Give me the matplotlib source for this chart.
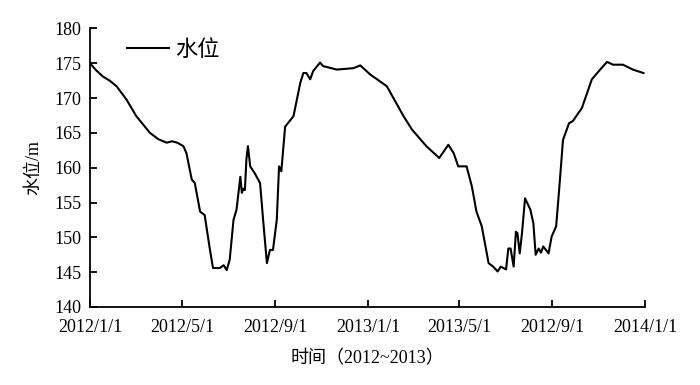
import matplotlib.pyplot as plt
import pandas as pd

# days since 2012-01-01 and water level (m)
days = [0, 8, 17, 26, 35, 48, 61, 70, 79, 90, 101, 108, 115, 123, 127, 134, 138,
        145, 151, 158, 162, 171, 176, 180, 184, 189, 193, 198, 200, 202, 204, 206,
        208, 211, 217, 224, 228, 233, 237, 241, 246, 249, 252, 257, 268, 277, 281,
        285, 290, 294, 303, 307, 325, 347, 356, 369, 382, 391, 413, 424, 443, 460,
        472, 479, 485, 496, 503, 509, 516, 525, 531, 537, 541, 548, 551, 554, 558,
        561, 563, 566, 569, 573, 580, 584, 587, 591, 594, 597, 604, 608, 614, 619,
        623, 631, 636, 648, 661, 672, 681, 689, 702, 715, 729]
level = [175.0, 174.0, 173.1, 172.5, 171.7, 169.8, 167.4, 166.2, 165.0, 164.1, 163.6,
         163.8, 163.6, 163.1, 162.1, 158.3, 157.8, 153.7, 153.2, 148.2, 145.6, 145.6,
         146.0, 145.3, 146.8, 152.5, 154.0, 158.7, 156.4, 157.0, 156.8, 161.2, 163.1,
         160.2, 159.2, 157.8, 152.5, 146.3, 148.2, 148.2, 152.5, 160.2, 159.5, 165.9,
         167.4, 172.2, 173.6, 173.6, 172.7, 173.9, 175.1, 174.6, 174.1, 174.3, 174.7,
         173.4, 172.4, 171.7, 167.4, 165.5, 163.1, 161.4, 163.3, 162.1, 160.2, 160.2,
         157.3, 153.7, 151.6, 146.3, 145.8, 145.1, 145.8, 145.4, 148.4, 148.4, 145.8,
         150.8, 150.6, 147.7, 150.6, 155.6, 154.0, 152.0, 147.5, 148.4, 147.8, 148.7,
         147.7, 150.1, 151.6, 158.3, 164.0, 166.4, 166.7, 168.6, 172.7, 174.1, 175.2,
         174.8, 174.8, 174.1, 173.6]

tick_dates = ["2012-01-01", "2012-05-01", "2012-09-01", "2013-01-01",
              "2013-05-01", "2013-09-01", "2014-01-01"]
tick_labels = ["2012/1/1", "2012/5/1", "2012/9/1", "2013/1/1",
               "2013/5/1", "2012/9/1", "2014/1/1"]

dates = pd.Timestamp("2012-01-01") + pd.to_timedelta(days, unit="D")

plt.rcParams['font.family'] = ['Liberation Serif', 'Noto Sans CJK SC']

fig = plt.figure(figsize=(7, 3.85), dpi=100)
ax = fig.add_axes([0.1286, 0.2026, 0.7928, 0.7234])

ax.plot(dates, level, color="black", linewidth=1.5, label="水位")

ax.set_xlim(pd.Timestamp("2012-01-01"), pd.Timestamp("2014-01-01"))
ax.set_ylim(140, 180)
ax.set_yticks(range(140, 181, 5))
ax.set_xticks(pd.to_datetime(tick_dates))
ax.set_xticklabels(tick_labels)

ax.spines["top"].set_visible(False)
ax.spines["right"].set_visible(False)
ax.spines["left"].set_linewidth(1.3)
ax.spines["bottom"].set_linewidth(1.3)
ax.tick_params(direction="in", length=5, width=1.3, labelsize=13)
ax.tick_params(axis="x", pad=8.5)
ax.tick_params(axis="y", pad=6)

ax.set_xlabel("时间（2012~2013）", fontsize=13, labelpad=10)
ax.set_ylabel("水位/m", fontsize=13, labelpad=9)

ax.legend(loc="upper left", bbox_to_anchor=(0.03, 1.03), frameon=False,
          fontsize=16, handlelength=1.9, handletextpad=0.3)

fig.savefig("out.png", dpi=100)
